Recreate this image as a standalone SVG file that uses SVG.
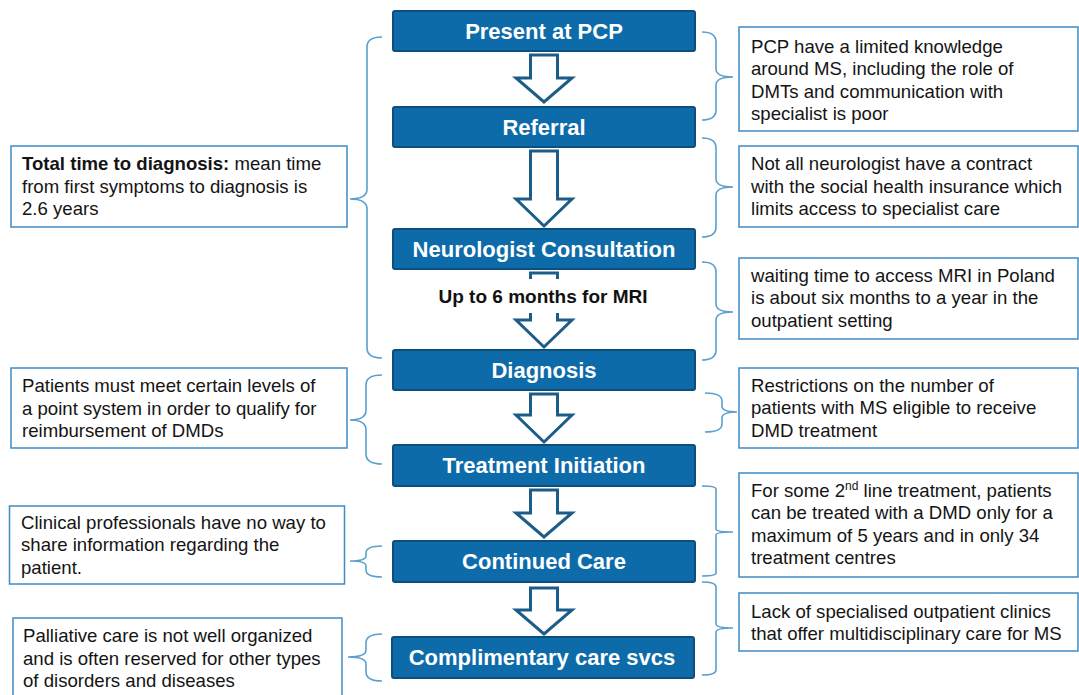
<svg xmlns="http://www.w3.org/2000/svg" width="1079" height="695" viewBox="0 0 1079 695">
<style>
.step rect{fill:#0E6BA9;stroke:#0D4E7C;stroke-width:2}
.step text{fill:#fff;font-family:"Liberation Sans",Arial,sans-serif;font-weight:bold;font-size:22px;text-anchor:middle}
.note rect{fill:#fff;stroke:#3F8BC3;stroke-width:1.5}
.note text{fill:#141414;font-family:"Liberation Sans",Arial,sans-serif;font-size:18.6px}
.arrow{fill:#fff;stroke:#1B5C88;stroke-width:3;stroke-linejoin:miter}
.brace{fill:none;stroke:#5A9FD0;stroke-width:1.6}
.b{font-weight:bold}
</style>
<rect width="1079" height="695" fill="#fff"/>
<g id="connectors">
<polygon class="arrow" points="530.5,55 557.5,55 557.5,78 572,78 544,102 516,78 530.5,78"/>
<polygon class="arrow" points="530.5,151 557.5,151 557.5,199 572,199 544,226 516,199 530.5,199"/>
<polygon class="arrow" points="530.5,273 557.5,273 557.5,320 572,320 544,347 516,320 530.5,320"/>
<polygon class="arrow" points="530.5,394 557.5,394 557.5,415 572,415 544,442 516,415 530.5,415"/>
<polygon class="arrow" points="530.5,490 557.5,490 557.5,513 572,513 544,537 516,513 530.5,513"/>
<polygon class="arrow" points="530.5,588 557.5,588 557.5,610 572,610 544,634 516,610 530.5,610"/>
<path class="brace" d="M382,37 Q367,37 367,47 L367,189 Q367,199 350,199 Q367,199 367,209 L367,348 Q367,358 382,358"/>
<path class="brace" d="M382,375 Q366,375 366,385 L366,410 Q366,420 350,420 Q366,420 366,430 L366,454 Q366,464 382,464"/>
<path class="brace" d="M382,546 Q366,546 366,553 L366,556 Q366,561 350,561 Q366,561 366,566 L366,570 Q366,577 382,577"/>
<path class="brace" d="M382,634 Q366,634 366,643 L366,650 Q366,657 348,657 Q366,657 366,664 L366,672 Q366,681 382,681"/>
<path class="brace" d="M702,32 Q716,32 716,42 L716,69 Q716,77 733,77 Q716,77 716,85 L716,110 Q716,120 702,120"/>
<path class="brace" d="M702,138 Q716,138 716,148 L716,179 Q716,187 733,187 Q716,187 716,195 L716,227 Q716,237 702,237"/>
<path class="brace" d="M702,262 Q716,262 716,272 L716,304 Q716,312 733,312 Q716,312 716,320 L716,350 Q716,360 702,360"/>
<path class="brace" d="M705,393 Q722,393 722,401 L722,406 Q722,412 737,412 Q722,412 722,418 L722,424 Q722,432 705,432"/>
<path class="brace" d="M702,486 Q716,486 716,489 L716,529 Q716,532 733,532 Q716,532 716,535 L716,573 Q716,576 702,576"/>
<path class="brace" d="M702,582 Q716,582 716,587 L716,624 Q716,628 733,628 Q716,628 716,632 L716,670 Q716,675 702,675"/>
</g>
<g id="step-present" class="step"><rect x="393" y="11" width="302" height="40" rx="2"/><text x="544" y="38.8">Present at PCP</text></g>
<g id="step-referral" class="step"><rect x="393" y="107" width="302" height="40" rx="2"/><text x="544" y="134.8">Referral</text></g>
<g id="step-neuro" class="step"><rect x="393" y="229" width="302" height="40" rx="2"/><text x="544" y="256.8">Neurologist Consultation</text></g>
<g id="mri-label"><rect x="430" y="279" width="228" height="34" fill="#fff"/><text x="543" y="303" font-family="Liberation Sans,Arial,sans-serif" font-weight="bold" font-size="19" text-anchor="middle" fill="#111">Up to 6 months for MRI</text></g>
<g id="step-diagnosis" class="step"><rect x="393" y="350" width="302" height="40" rx="2"/><text x="544" y="377.8">Diagnosis</text></g>
<g id="step-treatment" class="step"><rect x="393" y="445" width="302" height="41" rx="2"/><text x="544" y="473.3">Treatment Initiation</text></g>
<g id="step-continued" class="step"><rect x="393" y="541" width="302" height="41" rx="2"/><text x="544" y="569.3">Continued Care</text></g>
<g id="step-complimentary" class="step"><rect x="392" y="637" width="302" height="41" rx="2"/><text x="542" y="665.3">Complimentary care svcs</text></g>

<g id="note-total" class="note"><rect x="11" y="146" width="336" height="81"/><text x="22" y="169.5"><tspan class="b">Total time to diagnosis:</tspan> mean time</text><text x="22" y="192.5">from first symptoms to diagnosis is</text><text x="22" y="215">2.6 years</text></g>
<g id="note-points" class="note"><rect x="11" y="368" width="336" height="80"/><text x="22" y="392">Patients must meet certain levels of</text><text x="22" y="414.5">a point system in order to qualify for</text><text x="22" y="437">reimbursement of DMDs</text></g>
<g id="note-clinical" class="note"><rect x="9.5" y="506" width="335" height="78"/><text x="21" y="528.5">Clinical professionals have no way to</text><text x="21" y="551">share information regarding the</text><text x="21" y="573.5">patient.</text></g>
<g id="note-palliative" class="note"><rect x="13" y="618" width="329" height="90"/><text x="23" y="642">Palliative care is not well organized</text><text x="23" y="665">and is often reserved for other types</text><text x="23" y="687">of disorders and diseases</text></g>

<g id="note-pcp" class="note"><rect x="739" y="27" width="339" height="104"/><text x="751" y="52.5">PCP have a limited knowledge</text><text x="751" y="75">around MS, including the role of</text><text x="751" y="97.5">DMTs and communication with</text><text x="751" y="120">specialist is poor</text></g>
<g id="note-neuro" class="note"><rect x="739" y="146" width="339" height="81"/><text x="751" y="170">Not all neurologist have a contract</text><text x="751" y="192.5">with the social health insurance which</text><text x="751" y="215">limits access to specialist care</text></g>
<g id="note-mri" class="note"><rect x="739" y="258" width="339" height="81"/><text x="751" y="281.5">waiting time to access MRI in Poland</text><text x="751" y="304">is about six months to a year in the</text><text x="751" y="326.5">outpatient setting</text></g>
<g id="note-restrictions" class="note"><rect x="739" y="368" width="339" height="80"/><text x="751" y="391.5">Restrictions on the number of</text><text x="751" y="414">patients with MS eligible to receive</text><text x="751" y="436.5">DMD treatment</text></g>
<g id="note-secondline" class="note"><rect x="739" y="473" width="339" height="104"/><text x="751" y="496.5">For some 2<tspan font-size="12" dy="-7">nd</tspan><tspan dy="7"> line treatment, patients</tspan></text><text x="751" y="519">can be treated with a DMD only for a</text><text x="751" y="541.5">maximum of 5 years and in only 34</text><text x="751" y="564">treatment centres</text></g>
<g id="note-clinics" class="note"><rect x="739" y="593" width="339" height="58"/><text x="751" y="617.5">Lack of specialised outpatient clinics</text><text x="751" y="640">that offer multidisciplinary care for MS</text></g>
</svg>
